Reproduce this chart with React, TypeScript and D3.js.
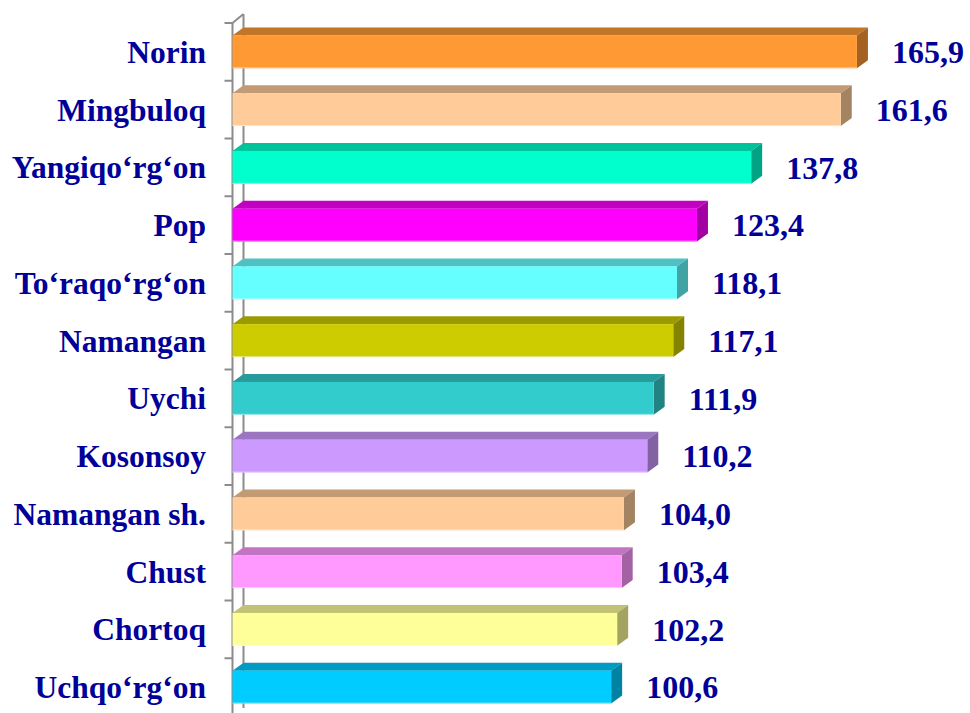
import React from 'react';
import * as d3 from 'd3';

// ====

const districts = [
    'Norin', 'Mingbuloq', 'Yangiqo‘rg‘on', 'Pop', 'To‘raqo‘rg‘on', 'Namangan',
    'Uychi', 'Kosonsoy', 'Namangan sh.', 'Chust', 'Chortoq', 'Uchqo‘rg‘on'
];
const values = [165.9, 161.6, 137.8, 123.4, 118.1, 117.1, 111.9, 110.2, 104.0, 103.4, 102.2, 100.6];
const barColors = [
    '#FF9933', '#FFCC99', '#00FFCC', '#FF00FF', '#66FFFF', '#CCCC00',
    '#33CCCC', '#CC99FF', '#FFCC99', '#FF99FF', '#FFFF99', '#00CCFF'
];

const width = 970;
const height = 713;
const depthX = 11;
const depthY = 8;
const textColor = '#000099';
const labelStyle = { fontFamily: "'Liberation Serif'", fontWeight: 700, fontSize: 31.5 };
const valueStyle = { fontFamily: "'Liberation Serif'", fontWeight: 700, fontSize: 32 };

const x = d3.scaleLinear().domain([0, 180]).range([232.5, 910]);
const y = d3.scaleBand<string>().domain(districts).range([23, 716]).paddingInner(0.43).paddingOuter(0.215);

const shade = (c: string, k: number) => {
    const rgb = d3.rgb(c);
    return d3.rgb(rgb.r * k, rgb.g * k, rgb.b * k).formatHex();
};

export default function App() {
    const x0 = x(0);
    const top = y.range()[0];
    const bottom = y.range()[1];
    const step = y.step();

    return (
        <svg width={width} height={height} style={{ display: 'block', position: 'absolute', left: 0, top: 0 }}>
            {/* axis wall */}
            <g stroke="#8c8c8c" strokeWidth={2} fill="none">
                <line x1={x0} y1={top} x2={x0} y2={bottom} />
                <line x1={x0 + depthX} y1={top - depthY - 1} x2={x0 + depthX} y2={bottom - depthY} />
                <line x1={x0} y1={top} x2={x0 + depthX} y2={top - depthY - 1} />
                {d3.range(districts.length + 1).map((i) => (
                    <line key={i} x1={x0 - 8} x2={x0} y1={top + i * step} y2={top + i * step} />
                ))}
            </g>

            {districts.map((d, i) => {
                const yb = y(d) as number;
                const h = y.bandwidth();
                const xe = x(values[i]);
                const c = barColors[i];
                return (
                    <g key={d}>
                        <polygon
                            points={`${x0},${yb} ${x0 + depthX},${yb - depthY} ${xe + depthX},${yb - depthY} ${xe},${yb}`}
                            fill={shade(c, 0.76)} />
                        <polygon
                            points={`${xe},${yb} ${xe + depthX},${yb - depthY} ${xe + depthX},${yb + h - depthY} ${xe},${yb + h}`}
                            fill={shade(c, 0.64)} />
                        <rect x={x0} y={yb} width={xe - x0} height={h} fill={c} />
                        <line x1={x0} x2={xe} y1={yb + h - 0.5} y2={yb + h - 0.5} stroke="#fff" strokeOpacity={0.5} />
                        <text x={206} y={yb + h / 2} dy="0.35em" textAnchor="end" style={labelStyle} fill={textColor}>
                            {d}
                        </text>
                        <text x={xe + depthX + 24} y={yb + h / 2} dy="0.35em" style={valueStyle} fill={textColor}>
                            {values[i].toFixed(1).replace('.', ',')}
                        </text>
                    </g>
                );
            })}
        </svg>
    );
}
